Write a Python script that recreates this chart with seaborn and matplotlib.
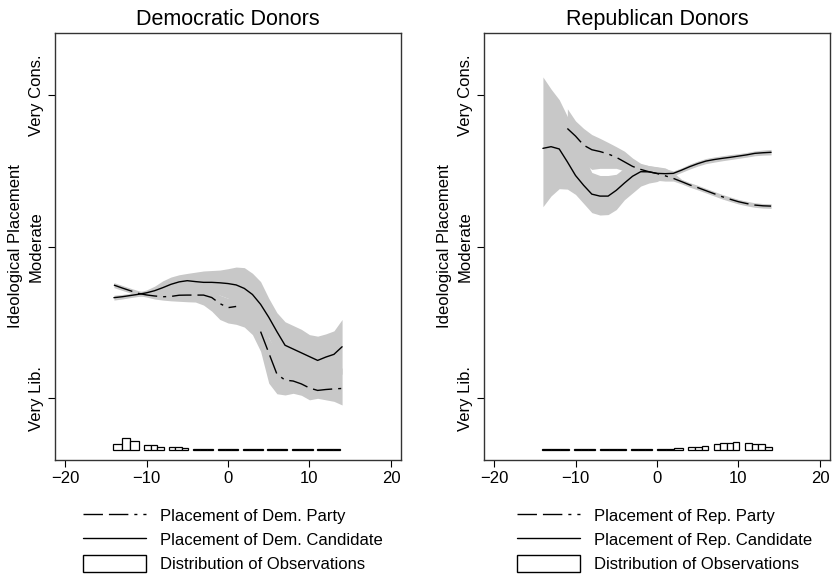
import numpy as np
import pandas as pd
import matplotlib
matplotlib.use("Agg")
import matplotlib.pyplot as plt
import seaborn as sns
from matplotlib.lines import Line2D
from matplotlib.patches import Patch

nan = np.nan

# ---------------- data ----------------
x_grid = list(range(-14, 15))

# Democratic donors
dem_cand = [0.664, 0.670, 0.678, 0.686, 0.696, 0.710, 0.730, 0.752, 0.768, 0.776,
            0.770, 0.765, 0.765, 0.762, 0.757, 0.748, 0.725, 0.685, 0.620, 0.535,
            0.440, 0.350, 0.325, 0.300, 0.275, 0.250, 0.272, 0.290, 0.340]
dem_cand_hi = [0.680, 0.685, 0.692, 0.700, 0.715, 0.740, 0.775, 0.800, 0.815, 0.824,
               0.832, 0.840, 0.843, 0.846, 0.855, 0.866, 0.862, 0.825, 0.770, 0.660,
               0.565, 0.505, 0.480, 0.455, 0.420, 0.410, 0.425, 0.445, 0.520]
dem_cand_lo = [0.648, 0.655, 0.664, 0.672, 0.678, 0.680, 0.685, 0.700, 0.710, 0.710,
               0.700, 0.690, 0.690, 0.680, 0.660, 0.630, 0.590, 0.540, 0.460, 0.400,
               0.280, 0.200, 0.170, 0.150, 0.130, 0.100, 0.120, 0.140, 0.160]
dem_party = [0.747, 0.728, 0.710, 0.692, 0.682, 0.675, 0.670, 0.672, 0.680, 0.681,
             0.681, 0.681, 0.665, 0.625, 0.598, 0.606, nan, nan, 0.440, 0.300,
             0.160, 0.120, 0.114, 0.095, 0.068, 0.052, 0.058, 0.062, 0.065]
dem_party_hi = [0.763, 0.745, 0.727, 0.710, 0.700, 0.700, 0.700, 0.710, 0.720, 0.720,
                0.720, 0.720, 0.710, 0.680, 0.660, 0.660, 0.620, 0.560, 0.500, 0.400,
                0.300, 0.250, 0.220, 0.200, 0.180, 0.170, 0.180, 0.190, 0.200]
dem_party_lo = [0.730, 0.712, 0.695, 0.678, 0.668, 0.655, 0.648, 0.643, 0.640, 0.637,
                0.635, 0.615, 0.575, 0.520, 0.497, 0.488, 0.470, 0.420, 0.310, 0.100,
                0.030, 0.022, 0.033, 0.020, -0.010, 0.000, -0.010, -0.020, -0.044]

# Republican donors
rep_cand = [1.649, 1.660, 1.645, 1.560, 1.470, 1.405, 1.347, 1.334, 1.334, 1.372,
            1.420, 1.465, 1.495, 1.494, 1.484, 1.482, 1.484, 1.505, 1.528, 1.548,
            1.565, 1.575, 1.583, 1.590, 1.598, 1.606, 1.616, 1.620, 1.623]
rep_cand_hi = [2.120, 2.040, 1.970, 1.860, 1.720, 1.600, 1.490, 1.470, 1.470, 1.478,
               1.520, 1.560, 1.545, 1.535, 1.525, 1.515, 1.500, 1.520, 1.545, 1.565,
               1.582, 1.592, 1.600, 1.608, 1.614, 1.622, 1.632, 1.638, 1.642]
rep_cand_lo = [1.264, 1.335, 1.383, 1.380, 1.345, 1.285, 1.225, 1.209, 1.212, 1.245,
               1.310, 1.355, 1.400, 1.420, 1.430, 1.455, 1.468, 1.490, 1.512, 1.532,
               1.548, 1.558, 1.567, 1.575, 1.583, 1.591, 1.600, 1.604, 1.606]
rep_party = [nan, nan, nan, 1.780, 1.730, 1.670, 1.640, 1.628, 1.612, 1.590,
             1.560, 1.530, 1.510, 1.495, 1.483, 1.468, 1.451, 1.430, 1.408, 1.390,
             1.370, 1.350, 1.330, 1.313, 1.297, 1.285, 1.275, 1.270, 1.268]
rep_party_hi = [nan, nan, nan, 1.910, 1.830, 1.780, 1.740, 1.715, 1.688, 1.660,
                1.630, 1.585, 1.550, 1.535, 1.528, 1.520, 1.490, 1.445, 1.423, 1.405,
                1.385, 1.365, 1.345, 1.328, 1.312, 1.300, 1.290, 1.285, 1.283]
rep_party_lo = [nan, nan, nan, 1.700, 1.620, 1.550, 1.510, 1.517, 1.517, 1.517,
                1.500, 1.470, 1.455, 1.445, 1.438, 1.433, 1.433, 1.415, 1.393, 1.375,
                1.355, 1.335, 1.315, 1.298, 1.282, 1.270, 1.260, 1.255, 1.253]

# Distribution of observations (bar groups: span in x, bar heights)
dem_hist_spans = [(-14.1, -10.9), (-10.3, -7.9), (-7.3, -4.9), (-4.3, -1.8), (-1.2, 1.2),
                  (1.8, 4.3), (4.8, 7.2), (7.8, 10.4), (10.9, 13.8)]
dem_hist_heights = [[0.040, 0.079, 0.059], [0.035, 0.031, 0.022], [0.022, 0.018, 0.013],
                    [0.009, 0.009, 0.009], [0.009, 0.009, 0.009], [0.009, 0.009, 0.009],
                    [0.009, 0.009, 0.009], [0.009, 0.009, 0.009], [0.009, 0.009, 0.009]]
rep_hist_spans = [(-14.1, -10.8), (-10.2, -7.6), (-7.0, -3.8), (-3.2, -0.6), (0.0, 3.2),
                  (3.8, 6.3), (7.0, 10.1), (10.8, 14.1)]
rep_hist_heights = [[0.008, 0.008, 0.008], [0.008, 0.008, 0.008], [0.008, 0.008, 0.008],
                    [0.008, 0.008, 0.008], [0.009, 0.009, 0.013], [0.017, 0.022, 0.026],
                    [0.040, 0.044, 0.048, 0.051], [0.046, 0.042, 0.042, 0.020]]
hist_base = -0.341

x_ticks = [-20, -10, 0, 10, 20]
y_ticks = [0, 1, 2]
y_ticklabels = ["Very Lib.", "Moderate", "Very Cons."]
titles = ["Democratic Donors", "Republican Donors"]
dem_labels = ["Placement of Dem. Party", "Placement of Dem. Candidate", "Distribution of Observations"]
rep_labels = ["Placement of Rep. Party", "Placement of Rep. Candidate", "Distribution of Observations"]

# ---------------- style ----------------
sns.set_theme(style="ticks")
plt.rcParams["font.family"] = ["Liberation Sans", "DejaVu Sans"]
plt.rcParams["text.color"] = "black"
plt.rcParams["xtick.color"] = "black"
plt.rcParams["ytick.color"] = "black"
plt.rcParams["axes.labelcolor"] = "black"
BAND = "#c8c8c8"
LW = 1.0
DASH = (0, (14, 4.3, 14, 4.3, 2.2, 4.3))

fig = plt.figure(figsize=(8.32, 5.78), dpi=100)
W, H = 832, 578
axL = fig.add_axes([55 / W, 1 - 460 / H, 346 / W, 427 / H])
axR = fig.add_axes([484 / W, 1 - 460 / H, 346 / W, 427 / H])


def line_df(vals):
    s = pd.Series(vals, dtype=float)
    df = pd.DataFrame({"x": x_grid, "y": s, "seg": s.isna().cumsum()})
    return df.dropna()


def panel(ax, title, cand, c_lo, c_hi, party, p_lo, p_hi, spans, heights, labels, leg_x):
    ax.fill_between(x_grid, np.array(c_lo, float), np.array(c_hi, float), color=BAND, lw=0, zorder=1)
    ax.fill_between(x_grid, np.array(p_lo, float), np.array(p_hi, float), color=BAND, lw=0, zorder=1)
    sns.lineplot(data=line_df(cand), x="x", y="y", units="seg", estimator=None,
                 color="black", lw=LW, ax=ax, zorder=3)
    sns.lineplot(data=line_df(party), x="x", y="y", units="seg", estimator=None,
                 color="black", lw=LW, linestyle=DASH, ax=ax, zorder=3)
    # histogram bars
    for (a, b), hs in zip(spans, heights):
        edges = np.linspace(a, b, len(hs) + 1)
        ax.bar(edges[:-1], hs, width=np.diff(edges), bottom=hist_base, align="edge",
               facecolor="white", edgecolor="black", lw=0.9, zorder=4)
    ax.set_xlim(-21.23, 21.23)
    ax.set_ylim(-0.407, 2.41)
    ax.set_xticks(x_ticks)
    ax.set_yticks(y_ticks)
    ax.set_yticklabels(y_ticklabels, rotation=90, va="center")
    ax.tick_params(direction="out", length=5, width=0.8, color="black",
                   labelcolor="black", labelsize=12, pad=3)
    ax.set_xlabel("")
    ax.set_ylabel("Ideological Placement", fontsize=12, color="black")
    ax.yaxis.set_label_coords(-0.092, 0.5)
    ax.set_title(title, fontsize=15.5, pad=6, color="black")
    for sp in ax.spines.values():
        sp.set_visible(True)
        sp.set_color("#333333")
        sp.set_linewidth(1.0)
    handles = [Line2D([], [], color="black", lw=LW, linestyle=DASH),
               Line2D([], [], color="black", lw=LW),
               Patch(facecolor="white", edgecolor="black", lw=1.0)]
    fig.legend(handles, labels, loc="upper left", bbox_to_anchor=(leg_x / W, 1 - 507 / H),
               frameon=False, fontsize=12, handlelength=3.8, handleheight=1.2,
               handletextpad=0.84, labelspacing=0.4, borderpad=0, borderaxespad=0,
               labelcolor="black")


panel(axL, titles[0], dem_cand, dem_cand_lo, dem_cand_hi, dem_party, dem_party_lo,
      dem_party_hi, dem_hist_spans, dem_hist_heights, dem_labels, 83)
panel(axR, titles[1], rep_cand, rep_cand_lo, rep_cand_hi, rep_party, rep_party_lo,
      rep_party_hi, rep_hist_spans, rep_hist_heights, rep_labels, 517)

fig.savefig("out.png", dpi=100)
